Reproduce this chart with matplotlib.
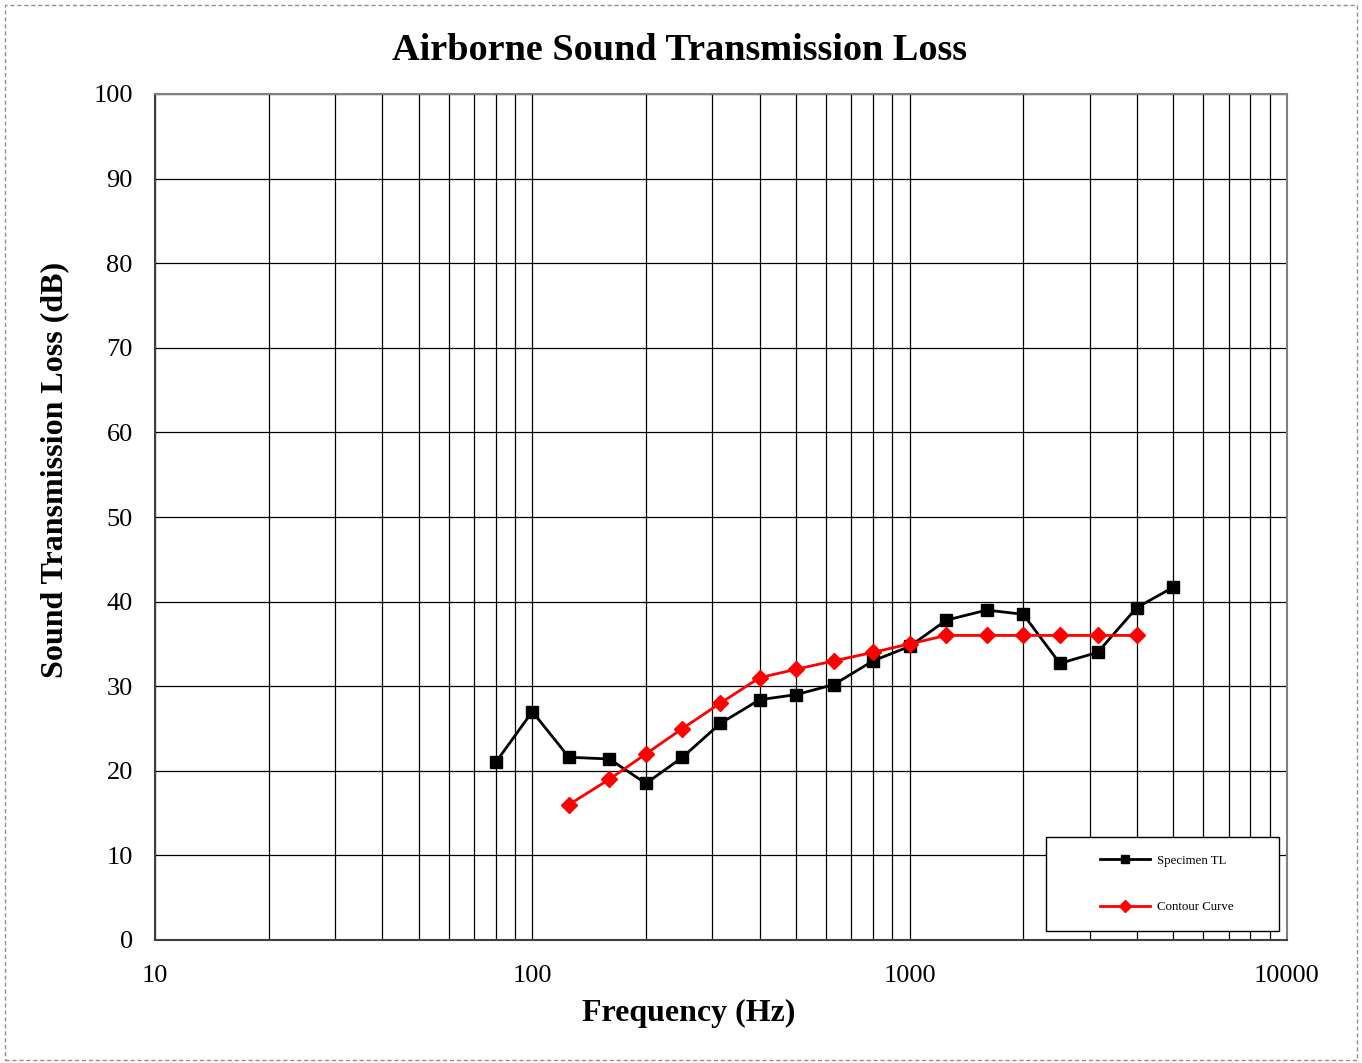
import matplotlib
matplotlib.use("Agg")
import matplotlib.pyplot as plt
from matplotlib.ticker import FixedLocator, LogLocator, NullFormatter
from matplotlib.patches import Rectangle

plt.rcParams['font.family'] = ['Liberation Serif', 'DejaVu Serif']

freq = [80, 100, 125, 160, 200, 250, 315, 400, 500, 630, 800, 1000,
        1250, 1600, 2000, 2500, 3150, 4000, 5000]
specimen_tl = [21, 27, 21.6, 21.4, 18.5, 21.6, 25.6, 28.4, 29, 30.2, 33, 34.7,
               37.8, 39, 38.5, 32.7, 34, 39.3, 41.7]
contour_freq = [125, 160, 200, 250, 315, 400, 500, 630, 800, 1000,
                1250, 1600, 2000, 2500, 3150, 4000]
contour = [16, 19, 22, 25, 28, 31, 32, 33, 34, 35, 36, 36, 36, 36, 36, 36]

W, H = 1362, 1063
fig = plt.figure(figsize=(W / 100, H / 100), dpi=100)
ax = fig.add_axes([155 / W, 1 - 940 / H, (1287 - 155) / W, (940 - 94) / H])

ax.plot(freq, specimen_tl, color='black', lw=2, marker='s', ms=9, label='Specimen TL', zorder=3)
ax.plot(contour_freq, contour, color='red', lw=2, marker='D', ms=8, label='Contour Curve', zorder=4)

ax.set_xscale('log')
ax.set_xlim(10, 10000)
ax.set_ylim(0, 100)
ax.yaxis.set_major_locator(FixedLocator(range(0, 101, 10)))
ax.xaxis.set_major_locator(FixedLocator([10, 100, 1000, 10000]))
ax.xaxis.set_minor_locator(LogLocator(base=10, subs=range(2, 10)))
ax.xaxis.set_minor_formatter(NullFormatter())
ax.set_xticklabels(['10', '100', '1000', '10000'])
ax.grid(True, which='major', color='black', lw=0.9)
ax.grid(True, which='minor', axis='x', color='black', lw=0.9)
ax.tick_params(which='both', length=0, labelsize=19)
ax.tick_params(axis='x', pad=18)
ax.tick_params(axis='y', pad=16)

for s in ['top', 'right']:
    ax.spines[s].set_color('#808080')
    ax.spines[s].set_linewidth(1.5)
for s in ['left', 'bottom']:
    ax.spines[s].set_color('#404040')
    ax.spines[s].set_linewidth(1.5)

fig.text(680 / W, 1 - 50 / H, 'Airborne Sound Transmission Loss', fontsize=27.5,
         fontweight='bold', ha='center', va='center')
fig.text(689 / W, 1 - 1013 / H, 'Frequency (Hz)', fontsize=23,
         fontweight='bold', ha='center', va='center')
fig.text(55 / W, 1 - 470 / H, 'Sound Transmission Loss (dB)', fontsize=23,
         fontweight='bold', ha='center', va='center', rotation=90)

# legend box drawn separately so its padding can match
x0, x1 = (1046 - 155) / 1132, (1279 - 155) / 1132
y0, y1 = (940 - 931) / 846, (940 - 837) / 846
ax.add_patch(Rectangle((x0, y0), x1 - x0, y1 - y0, transform=ax.transAxes,
                       facecolor='white', edgecolor='black', lw=1, zorder=5))
leg = ax.legend(loc='center', bbox_to_anchor=((x0 + x1) / 2 + 0.0035, (y0 + y1) / 2),
                fontsize=9.3, frameon=False, handlelength=3.9, borderpad=0,
                labelspacing=2.7, handletextpad=0.5, borderaxespad=0)
leg.set_zorder(6)
for h in leg.get_lines():
    h.set_markersize(6)

fig.patches.append(Rectangle((0.004, 0.003), 0.992, 0.992, transform=fig.transFigure,
                             fill=False, edgecolor='#909090', lw=1, ls=(0, (3, 2))))

fig.savefig('out.png', dpi=100)
